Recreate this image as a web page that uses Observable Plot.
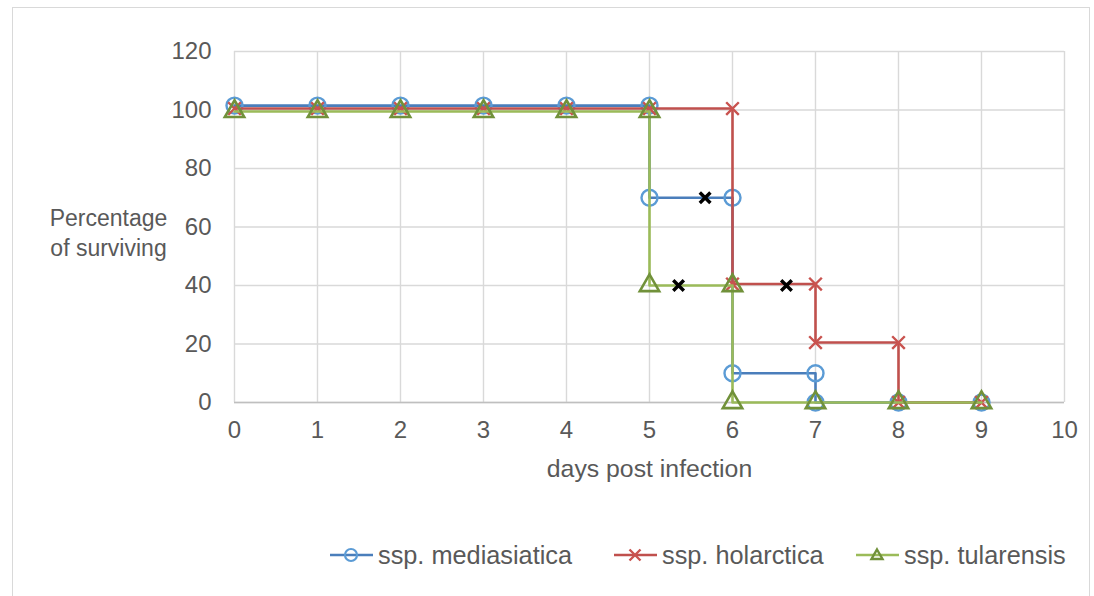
<!DOCTYPE html>
<html>
<head>
<meta charset="utf-8">
<script src="https://cdn.jsdelivr.net/npm/d3@7"></script>
<script src="https://cdn.jsdelivr.net/npm/@observablehq/plot@0.6"></script>
<style>
  html, body { margin: 0; padding: 0; background: #fff; }
  #wrap { position: relative; width: 1094px; height: 596px; overflow: hidden; font-family: "Liberation Sans", Arial, sans-serif; color: #595959; }
  #border { position: absolute; left: 12px; top: 7px; width: 1078px; height: 620px; border: 1.5px solid #d9d9d9; box-sizing: border-box; }
  #chart { position: absolute; left: 0; top: 0; }
  .leg { position: absolute; top: 539px; height: 32px; display: flex; align-items: center; font-size: 25.3px; color: #595959; white-space: nowrap; }
  .leg svg { margin-right: 5px; }
</style>
</head>
<body>
<div id="wrap">
  <div id="border"></div>
  <div id="chart"></div>
  <div id="legend"></div>
</div>
<script>
// ---- data ----
const seriesNames = ["ssp. mediasiatica", "ssp. holarctica", "ssp. tularensis"];
const days_mediasiatica = [0, 1, 2, 3, 4, 5, 5, 6, 6, 7, 7, 8, 9];
const surv_mediasiatica = [101.5, 101.5, 101.5, 101.5, 101.5, 101.5, 70, 70, 10, 10, 0, 0, 0];
const days_holarctica = [0, 1, 2, 3, 4, 5, 6, 6, 7, 7, 8, 8, 9];
const surv_holarctica = [100.5, 100.5, 100.5, 100.5, 100.5, 100.5, 100.5, 40.5, 40.5, 20.5, 20.5, 0, 0];
const days_tularensis = [0, 1, 2, 3, 4, 5, 5, 6, 6, 7, 8, 9];
const surv_tularensis = [99.5, 99.5, 99.5, 99.5, 99.5, 99.5, 40, 40, 0, 0, 0, 0];
const days_censored = [5.67, 5.35, 6.65];
const surv_censored = [70, 40, 40];
const xTicks = [0, 1, 2, 3, 4, 5, 6, 7, 8, 9, 10];
const yTicks = [0, 20, 40, 60, 80, 100, 120];
const xTitle = "days post infection";
const yTitle = "Percentage\nof surviving";

// ---- build tables ----
const zip = (xs, ys) => xs.map((x, i) => ({x, y: ys[i]}));
const med = zip(days_mediasiatica, surv_mediasiatica);
const hol = zip(days_holarctica, surv_holarctica);
const tul = zip(days_tularensis, surv_tularensis);
const cens = zip(days_censored, surv_censored);

const C = {
  medLine: "#4a7ebb", medMark: "#5b9bd5",
  holLine: "#c0504d", holMark: "#c9534f",
  tulLine: "#9bbb59", tulMark: "#71913a"
};

const W = 1094, H = 480;
const chart = Plot.plot({
  width: W, height: H,
  marginLeft: 234, marginRight: 30, marginTop: 51, marginBottom: 78,
  style: {fontFamily: "'Liberation Sans', Arial, sans-serif", fontSize: "24px", color: "#595959", background: "transparent", overflow: "visible"},
  x: {domain: [0, 10], ticks: xTicks, tickSize: 0, tickPadding: 18, label: null, tickFormat: d => String(d)},
  y: {domain: [0, 120], ticks: yTicks, tickSize: 0, tickPadding: 23, label: null, tickFormat: d => String(d)},
  marks: [
    Plot.gridX(xTicks, {stroke: "#d9d9d9", strokeOpacity: 1, strokeWidth: 1.4}),
    Plot.gridY(yTicks, {stroke: "#d9d9d9", strokeOpacity: 1, strokeWidth: 1.4}),
    Plot.ruleY([0], {stroke: "#bfbfbf", strokeWidth: 1.4}),
    Plot.axisX({ticks: xTicks, tickSize: 0, tickPadding: 18, fill: "#595959", label: null}),
    Plot.axisY({ticks: yTicks, tickSize: 0, tickPadding: 23, fill: "#595959", label: null}),
    Plot.text([xTitle], {frameAnchor: "bottom", dy: 67, lineAnchor: "middle", fill: "#595959", fontSize: 24.8}),
    Plot.text([yTitle], {frameAnchor: "left", dx: -126, dy: 4, textAnchor: "middle", lineAnchor: "middle", lineHeight: 1.3, fill: "#595959", fontSize: 23}),
    // mediasiatica
    Plot.line(med, {x: "x", y: "y", stroke: C.medLine, strokeWidth: 2.6}),
    Plot.dot(med, {x: "x", y: "y", symbol: "circle", r: 8, stroke: C.medMark, fill: "none", strokeWidth: 2.4}),
    // holarctica
    Plot.line(hol, {x: "x", y: "y", stroke: C.holLine, strokeWidth: 2.6}),
    Plot.dot(hol, {x: "x", y: "y", symbol: "times", r: 5.8, stroke: C.holMark, strokeWidth: 2.4}),
    // tularensis
    Plot.line(tul, {x: "x", y: "y", stroke: C.tulLine, strokeWidth: 2.6}),
    Plot.dot(tul, {x: "x", y: "y", symbol: "triangle", r: 7.2, stroke: C.tulMark, fill: "none", strokeWidth: 2.6}),
    // censored
    Plot.dot(cens, {x: "x", y: "y", symbol: "times", r: 4.9, stroke: "#000", strokeWidth: 3.4})
  ]
});
document.getElementById("chart").appendChild(chart);

// ---- legend ----
const legItems = [
  {name: seriesNames[0], left: 330, line: C.medLine, mark: C.medMark, sym: "circle"},
  {name: seriesNames[1], left: 614, line: C.holLine, mark: C.holMark, sym: "times"},
  {name: seriesNames[2], left: 856, line: C.tulLine, mark: C.tulMark, sym: "triangle"}
];
const legend = document.getElementById("legend");
for (const it of legItems) {
  const div = document.createElement("div");
  div.className = "leg";
  div.style.left = it.left + "px";
  let sym = "";
  if (it.sym === "circle") sym = `<circle cx="21" cy="16" r="6" fill="none" stroke="${it.mark}" stroke-width="2.2"/>`;
  else if (it.sym === "times") sym = `<path d="M15.5,10.5L26.5,21.5M15.5,21.5L26.5,10.5" stroke="${it.mark}" stroke-width="2.4"/>`;
  else sym = `<path d="M21,10.5L26.5,20L15.5,20Z" fill="none" stroke="${it.mark}" stroke-width="2.4"/>`;
  div.innerHTML = `<svg width="43" height="32"><line x1="0" x2="43" y1="16" y2="16" stroke="${it.line}" stroke-width="2.6"/>${sym}</svg><span>${it.name}</span>`;
  legend.appendChild(div);
}
</script>
</body>
</html>
